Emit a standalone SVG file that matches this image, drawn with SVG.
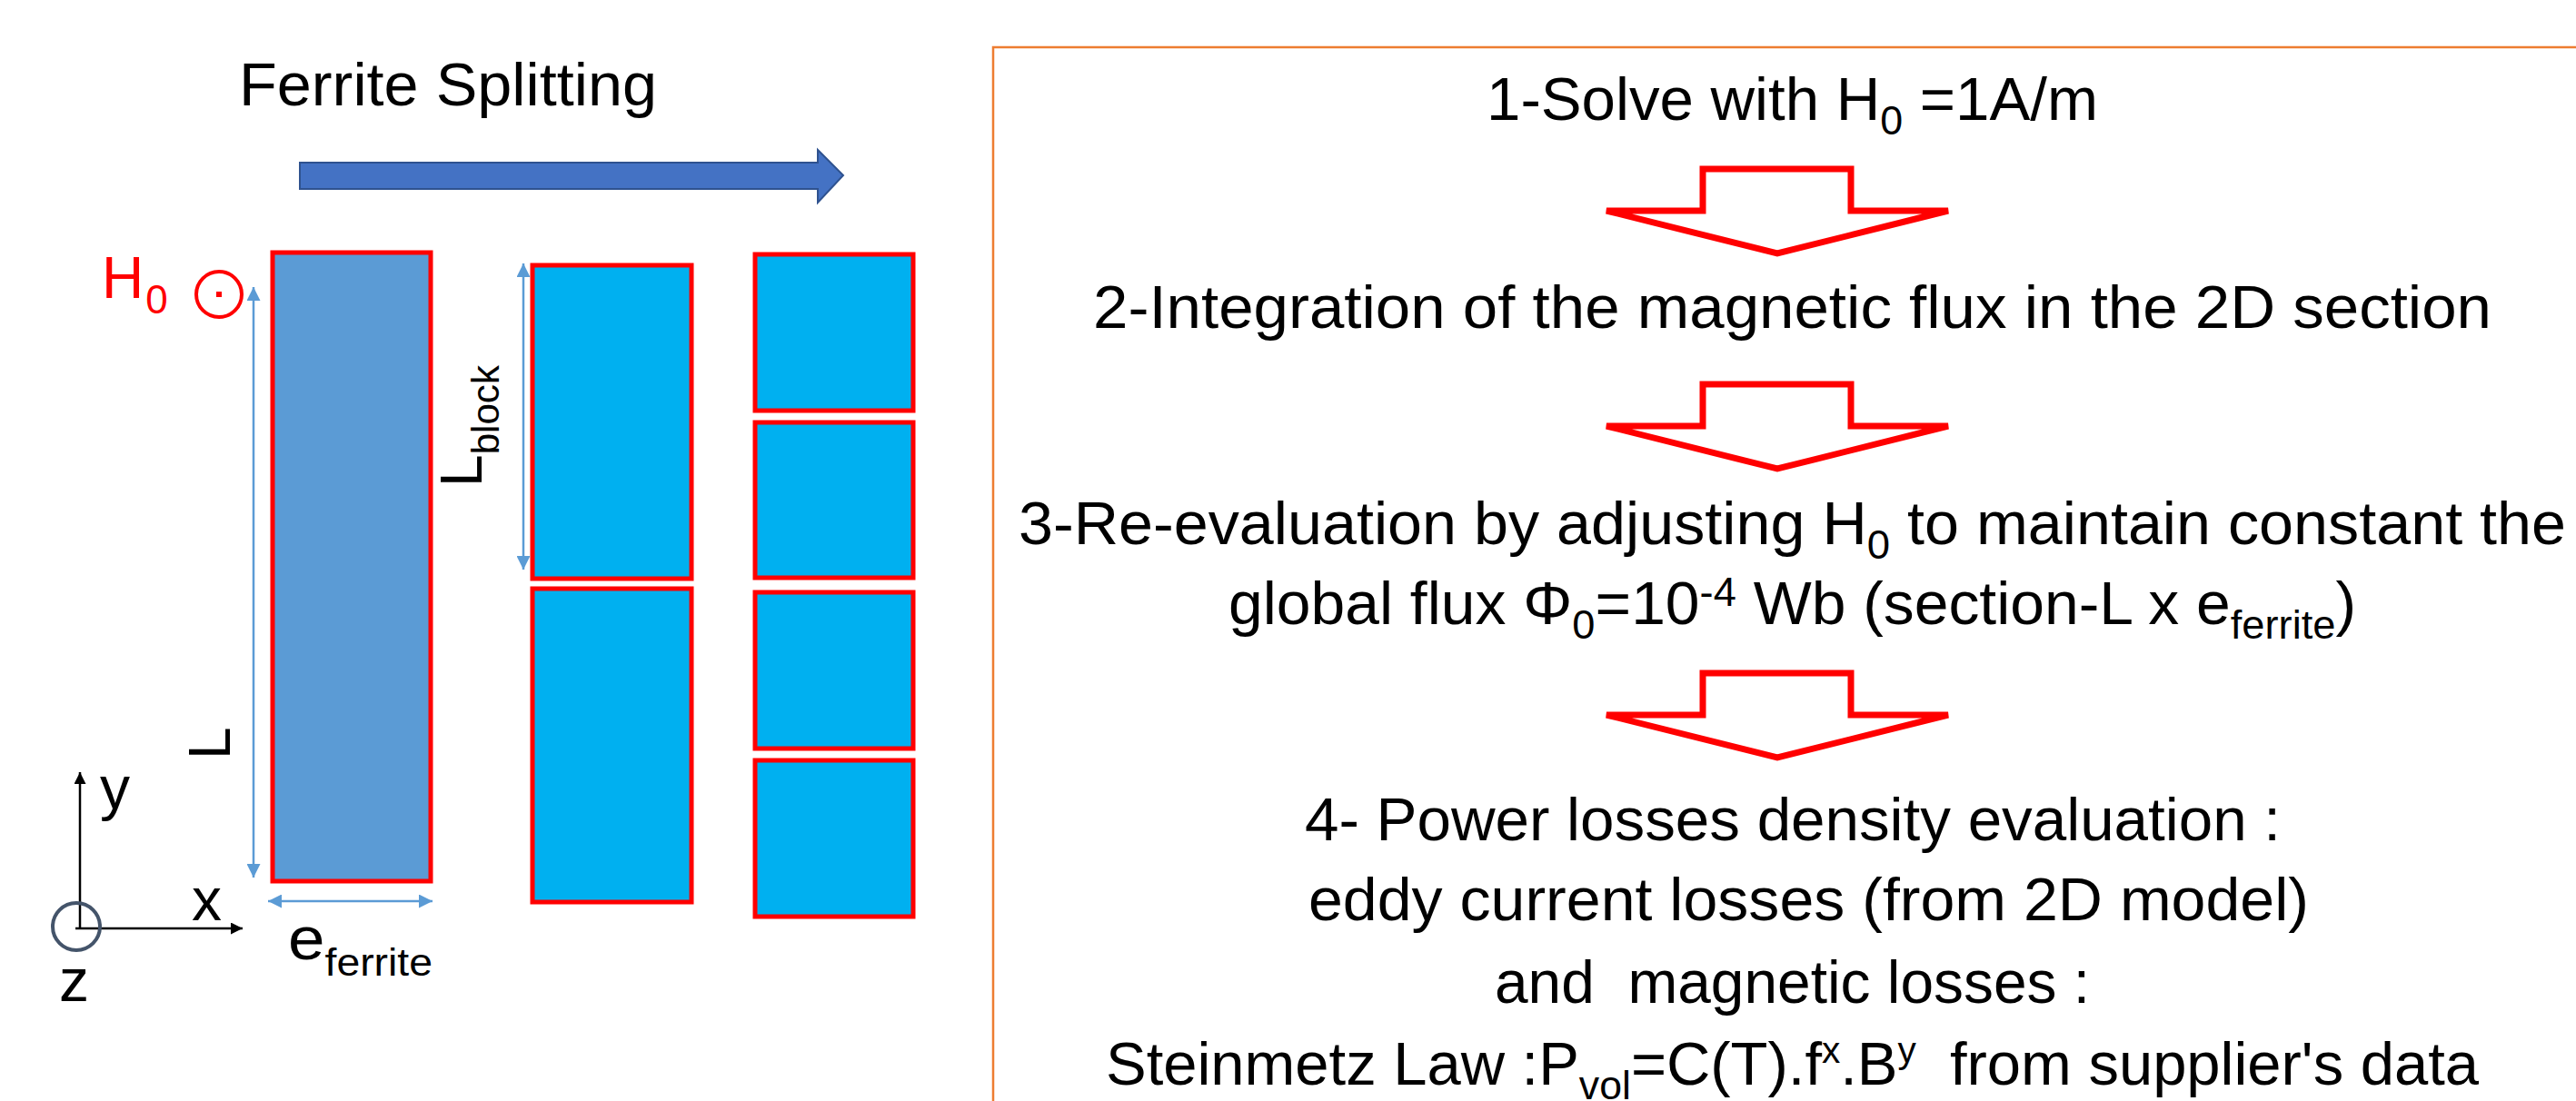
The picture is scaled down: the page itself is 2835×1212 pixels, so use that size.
<svg xmlns="http://www.w3.org/2000/svg" width="2835" height="1212" viewBox="0 0 2835 1212">
<style>
text{font-family:"Liberation Sans",Arial,sans-serif;fill:#000}
.t{font-size:66px}
.blk{fill:#00B0F0;stroke:#FF0000;stroke-width:5}
.big{fill:#5B9BD5;stroke:#FF0000;stroke-width:5}
.dim{stroke:#5B9BD5;stroke-width:2.5;fill:none}
.ax{stroke:#000;stroke-width:2.5;fill:none}
.step{fill:#fff;stroke:#FF0000;stroke-width:7;stroke-linejoin:miter;stroke-miterlimit:3}
</style>
<defs>
<marker id="mb" viewBox="0 0 10 10" refX="10" refY="5" markerUnits="userSpaceOnUse" markerWidth="16" markerHeight="15" orient="auto-start-reverse"><path d="M0,0 L10,5 L0,10 z" fill="#5B9BD5"/></marker>
<marker id="mk" viewBox="0 0 10 10" refX="10" refY="5" markerUnits="userSpaceOnUse" markerWidth="17" markerHeight="13" orient="auto"><path d="M0,0 L10,5 L0,10 z" fill="#000"/></marker>
</defs>

<g id="title">
<text x="263" y="116" font-size="66" textLength="460" lengthAdjust="spacingAndGlyphs">Ferrite Splitting</text>
</g>
<g id="split-arrow">
<polygon points="330,179 900,179 900,165 928,193 900,223 900,208 330,208" fill="#4472C4" stroke="#2F528F" stroke-width="2"/>
</g>

<g id="h0">
<text x="112" y="328" font-size="64" style="fill:#FF0000">H<tspan font-size="44" dx="2" dy="17">0</tspan></text>
<circle cx="241" cy="324" r="25" fill="none" stroke="#FF0000" stroke-width="4"/>
<rect x="238" y="321" width="6" height="6" fill="#FF0000"/>
</g>

<g id="ferrite-full">
<rect class="big" x="300" y="278" width="174" height="692"/>
</g>
<g id="ferrite-2-top"><rect class="blk" x="586" y="292" width="175" height="345"/></g>
<g id="ferrite-2-bottom"><rect class="blk" x="586" y="648" width="175" height="345"/></g>
<g id="ferrite-4-1"><rect class="blk" x="831" y="280" width="174" height="172"/></g>
<g id="ferrite-4-2"><rect class="blk" x="831" y="465" width="174" height="171"/></g>
<g id="ferrite-4-3"><rect class="blk" x="831" y="652" width="174" height="172"/></g>
<g id="ferrite-4-4"><rect class="blk" x="831" y="837" width="174" height="172"/></g>

<g id="connectors">
<line class="dim" x1="279" y1="966" x2="279" y2="316" marker-start="url(#mb)" marker-end="url(#mb)"/>
<line class="dim" x1="576" y1="627" x2="576" y2="290" marker-start="url(#mb)" marker-end="url(#mb)"/>
<line class="dim" x1="295" y1="992" x2="476" y2="992" marker-start="url(#mb)" marker-end="url(#mb)"/>
<line class="ax" x1="88" y1="1023" x2="88" y2="850" marker-end="url(#mk)"/>
<line class="ax" x1="83" y1="1022" x2="267" y2="1022" marker-end="url(#mk)"/>
</g>

<g id="labels">
<text transform="translate(253,836) rotate(-90)" font-size="64">L</text>
<text transform="translate(530,536) rotate(-90)" font-size="64" textLength="134" lengthAdjust="spacingAndGlyphs">L<tspan font-size="42" dy="19">block</tspan></text>
<text x="317" y="1056" font-size="66" textLength="159" lengthAdjust="spacingAndGlyphs">e<tspan font-size="42" dy="18">ferrite</tspan></text>
</g>

<g id="axes">
<circle cx="84" cy="1020" r="26" fill="none" stroke="#44546A" stroke-width="4"/>
<text x="110" y="890" font-size="66">y</text>
<text x="211" y="1013" font-size="66">x</text>
<text x="65" y="1102" font-size="66">z</text>
</g>

<g id="panel">
<rect x="1093" y="52" width="1800" height="1300" fill="none" stroke="#ED7D31" stroke-width="2.5"/>
</g>

<g id="step1">
<text class="t" x="1636" y="132" textLength="673" lengthAdjust="spacingAndGlyphs">1-Solve with H<tspan font-size="44" dy="16">0</tspan><tspan dy="-16"> =1A/m</tspan></text>
</g>
<g id="arrow1"><path class="step" d="M1874,186 H2037 V232 H2144 L1956,279 L1768,232 H1874 Z"/></g>
<g id="step2">
<text class="t" x="1203" y="361" textLength="1539" lengthAdjust="spacingAndGlyphs">2-Integration of the magnetic flux in the 2D section</text>
</g>
<g id="arrow2"><path class="step" d="M1874,423 H2037 V469 H2144 L1956,516 L1768,469 H1874 Z"/></g>
<g id="step3">
<text class="t" x="1121" y="599" textLength="1703" lengthAdjust="spacingAndGlyphs">3-Re-evaluation by adjusting H<tspan font-size="44" dy="16">0</tspan><tspan dy="-16"> to maintain constant the</tspan></text>
<text class="t" x="1352" y="687" textLength="1241" lengthAdjust="spacingAndGlyphs">global flux Φ<tspan font-size="44" dy="16">0</tspan><tspan dy="-16">=10</tspan><tspan font-size="44" dy="-20">-4</tspan><tspan dy="20"> Wb (section-L x e</tspan><tspan font-size="44" dy="16">ferrite</tspan><tspan dy="-16">)</tspan></text>
</g>
<g id="arrow3"><path class="step" d="M1874,741 H2037 V787 H2144 L1956,834 L1768,787 H1874 Z"/></g>
<g id="step4">
<text class="t" x="1436" y="925" textLength="1074" lengthAdjust="spacingAndGlyphs">4- Power losses density evaluation :</text>
<text class="t" x="1440" y="1013" textLength="1101" lengthAdjust="spacingAndGlyphs">eddy current losses (from 2D model)</text>
<text class="t" x="1645" y="1104" textLength="655" lengthAdjust="spacingAndGlyphs">and&#160; magnetic losses :</text>
<text class="t" x="1217" y="1194" textLength="1511" lengthAdjust="spacingAndGlyphs">Steinmetz Law :P<tspan font-size="44" dy="16">vol</tspan><tspan dy="-16">=C(T).f</tspan><tspan font-size="40" dy="-24">x</tspan><tspan dy="24">.B</tspan><tspan font-size="40" dy="-24">y</tspan><tspan dy="24">&#160; from supplier's data</tspan></text>
</g>
</svg>
